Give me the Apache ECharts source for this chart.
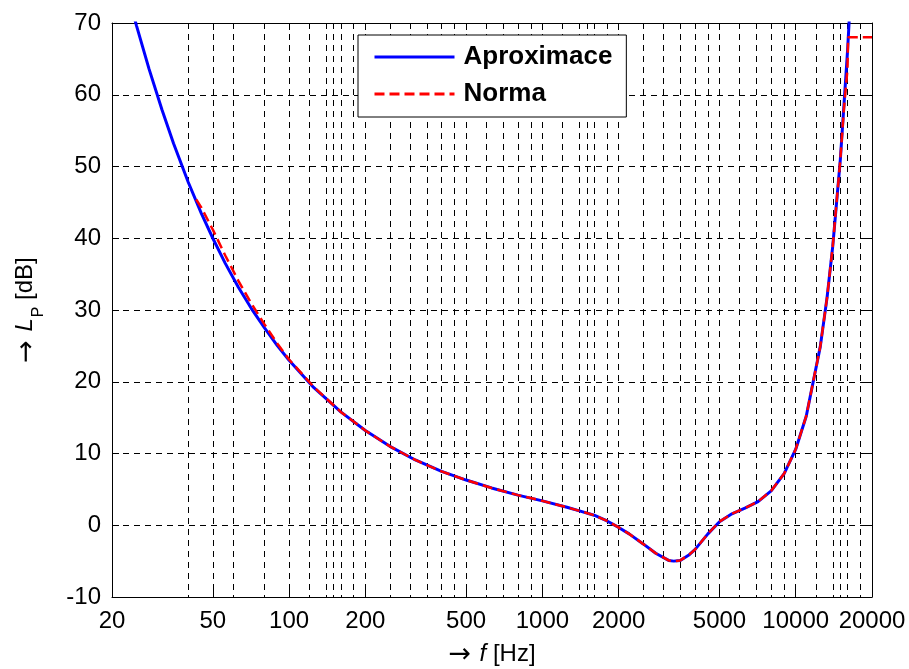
<!DOCTYPE html>
<html>
<head>
<meta charset="utf-8">
<script src="https://cdn.jsdelivr.net/npm/echarts@6/dist/echarts.min.js"></script>
<style>
  html, body { margin: 0; padding: 0; background: #fff; }
  #chart { width: 909px; height: 669px; }
</style>
</head>
<body>
<div id="chart"></div>
<script>
'use strict';

// Aproximace (blue, solid)
const aproxFreq = [24, 25, 28, 31.5, 35, 40, 45, 50, 56, 63, 71, 80, 90, 100, 125, 160, 200, 250, 315, 400,
  500, 630, 800, 1000, 1250, 1400, 1600, 1800, 2000, 2200, 2500, 2800, 3150, 3300, 3500, 3800, 4000, 4500,
  5000, 5600, 6300, 7100, 8000, 9000, 10000, 11000, 12500, 13300, 14000, 15000, 16000, 16500];
const aproxLevel = [71.9, 69.6, 63.6, 57.9, 53.2, 47.8, 43.5, 40.0, 36.5, 33.2, 30.2, 27.5, 25.0, 23.0, 19.2, 15.8, 13.2, 11.0, 9.1, 7.5,
  6.3, 5.2, 4.2, 3.4, 2.5, 2.0, 1.4, 0.6, -0.3, -1.2, -2.6, -3.9, -4.9, -5.0, -4.9, -4.1, -3.4, -1.2,
  0.5, 1.6, 2.4, 3.3, 4.8, 7.2, 10.6, 15.2, 24.9, 31.8, 38.9, 51.0, 65.9, 74.5];

// Norma (red, dashed)
const normaFreq = [43, 45, 50, 56, 63, 71, 80, 90, 100, 125, 160, 200, 250, 315, 400, 500, 630, 800, 1000,
  1250, 1400, 1600, 1800, 2000, 2200, 2500, 2800, 3150, 3300, 3500, 3800, 4000, 4500, 5000, 5600, 6300,
  7100, 8000, 9000, 10000, 11000, 12500, 13300, 14000, 15000, 15500, 16000, 16100, 20000];
const normaLevel = [45.4, 44.3, 41.2, 37.6, 34.1, 30.9, 28.0, 25.3, 23.1, 19.3, 15.8, 13.2, 11.0, 9.1, 7.5, 6.3, 5.2, 4.2, 3.4,
  2.5, 2.0, 1.4, 0.6, -0.3, -1.2, -2.6, -3.9, -4.9, -5.0, -4.9, -4.1, -3.4, -1.2, 0.5, 1.6, 2.4,
  3.3, 4.8, 7.2, 10.6, 15.2, 24.9, 31.8, 38.9, 51.0, 58.1, 63.5, 68.0, 68.0];

const labelFreqs = [20, 50, 100, 200, 500, 1000, 2000, 5000, 10000, 20000];
const gridFreqs = [40, 50, 60, 80, 100, 120, 140, 150, 160, 180, 200, 250, 300, 350, 400, 450, 500,
  600, 700, 800, 900, 1000, 1200, 1400, 1500, 1600, 1800, 2000, 2500, 3000, 3500, 4000, 4500, 5000,
  6000, 7000, 8000, 9000, 10000, 12000, 14000, 15000, 16000, 18000];

const FONT = '"Liberation Sans", Arial, sans-serif';
const ARROW_FONT = '"DejaVu Sans", sans-serif';
const gridDash = { color: '#000', width: 1, type: [6, 5] };

const myChart = echarts.init(document.getElementById('chart'), null, { renderer: 'canvas' });

const pairs = (xs, ys) => xs.map((x, i) => [x, ys[i]]);

const logAxis = (extra) => Object.assign({
  type: 'log',
  logBase: 10,
  min: 20,
  max: 20000,
  gridIndex: 0,
  axisLine: { show: true, onZero: false, lineStyle: { color: '#000', width: 1 } },
  axisTick: { show: false },
  axisLabel: { show: false },
  splitLine: { show: false },
  minorTick: { show: false },
  minorSplitLine: { show: false },
}, extra);

const option = {
  animation: false,
  backgroundColor: '#fff',
  textStyle: { fontFamily: FONT },
  grid: { left: 112, right: 37, top: 23, bottom: 72, containLabel: false, outerBoundsMode: 'none' },
  legend: {
    left: 358,
    top: 35,
    orient: 'vertical',
    backgroundColor: '#fff',
    borderColor: '#000',
    borderWidth: 1,
    borderRadius: 0,
    padding: [9, 14, 10, 15],
    itemWidth: 80,
    itemHeight: 14,
    itemGap: 11,
    itemStyle: { opacity: 0, borderWidth: 0 },
    lineStyle: { width: 3 },
    textStyle: {
      fontFamily: FONT,
      fontSize: 26,
      fontWeight: 'bold',
      color: '#000',
      lineHeight: 26,
      padding: [0, 0, 0, 4],
    },
    data: ['Aproximace', 'Norma'],
  },
  xAxis: [
    logAxis({
      position: 'bottom',
      axisTick: { show: true, inside: true, length: 7, lineStyle: { color: '#000' }, customValues: labelFreqs },
      axisLabel: {
        show: true, customValues: labelFreqs, margin: 12,
        fontSize: 24, color: '#000', fontFamily: FONT,
        formatter: (v) => String(v),
      },
      name: '{r|→ }{i|f}{a| [Hz]}',
      nameLocation: 'middle',
      nameGap: 44,
      nameTextStyle: {
        fontFamily: FONT, fontSize: 24, color: '#000',
        rich: {
          r: { fontSize: 27, fontFamily: ARROW_FONT },
          a: { fontSize: 24 },
          i: { fontSize: 24, fontStyle: 'italic' },
        },
      },
    }),
    logAxis({
      position: 'top',
      axisTick: { show: true, inside: true, length: 7, lineStyle: { color: '#000' }, customValues: labelFreqs },
    }),
    logAxis({
      position: 'bottom',
      axisLine: { show: false, onZero: false },
      axisTick: { show: false, customValues: gridFreqs },
      splitLine: { show: true, lineStyle: gridDash },
    }),
  ],
  yAxis: [
    {
      type: 'value',
      position: 'left',
      min: -10,
      max: 70,
      interval: 10,
      axisLine: { show: true, onZero: false, lineStyle: { color: '#000', width: 1 } },
      axisTick: { show: true, inside: true, length: 7, lineStyle: { color: '#000' } },
      axisLabel: { fontSize: 24, color: '#000', margin: 11, fontFamily: FONT },
      splitLine: { show: true, lineStyle: gridDash },
      name: '{r|→ }{i|L}{s|P}{a| [dB]}',
      nameLocation: 'middle',
      nameRotate: 90,
      nameGap: 73,
      nameTextStyle: {
        fontFamily: FONT, fontSize: 24, color: '#000',
        rich: {
          r: { fontSize: 27, lineHeight: 26, verticalAlign: 'top', fontFamily: ARROW_FONT },
          a: { fontSize: 24, lineHeight: 26, verticalAlign: 'top' },
          i: { fontSize: 24, lineHeight: 26, verticalAlign: 'top', fontStyle: 'italic' },
          s: { fontSize: 16, lineHeight: 16, verticalAlign: 'top', padding: [18, 0, 0, 1] },
        },
      },
    },
    {
      type: 'value',
      position: 'right',
      min: -10,
      max: 70,
      interval: 10,
      axisLine: { show: true, onZero: false, lineStyle: { color: '#000', width: 1 } },
      axisTick: { show: true, inside: true, length: 7, lineStyle: { color: '#000' } },
      axisLabel: { show: false },
      splitLine: { show: false },
    },
  ],
  series: [
    {
      name: 'Aproximace',
      type: 'line',
      xAxisIndex: 0,
      yAxisIndex: 0,
      symbol: 'none',
      clip: true,
      lineStyle: { color: '#0000ff', width: 3 },
      itemStyle: { color: '#0000ff' },
      data: pairs(aproxFreq, aproxLevel),
      z: 3,
    },
    {
      name: 'Norma',
      type: 'line',
      xAxisIndex: 0,
      yAxisIndex: 0,
      symbol: 'none',
      clip: true,
      lineStyle: { color: '#ff0000', width: 2.5, type: [10, 5] },
      itemStyle: { color: '#ff0000' },
      data: pairs(normaFreq, normaLevel),
      z: 4,
    },
  ],
};

myChart.setOption(option);
</script>
</body>
</html>
